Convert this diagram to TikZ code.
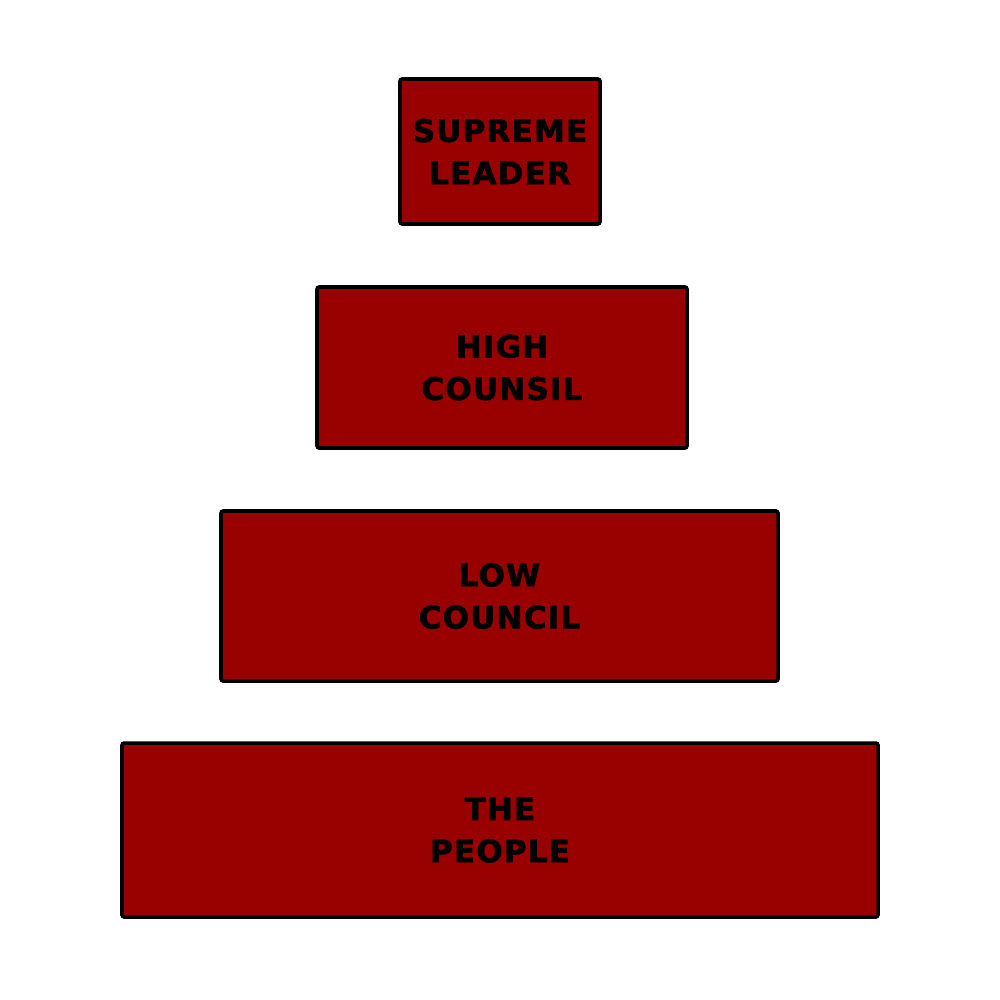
\documentclass[tikz,border=0pt]{standalone}
\usepackage{fontspec}
\setmainfont{DejaVu Sans}[BoldFeatures={FakeBold=2}]
\definecolor{boxred}{HTML}{990000}
\begin{document}
\begin{tikzpicture}[x=0.01cm,y=-0.01cm,
  tier/.style={draw=black, line width=1pt, fill=boxred, rounded corners=0.6pt,
    inner sep=0pt, align=center, text=black,
    font=\fontsize{8.8}{12}\selectfont\bfseries\addfontfeatures{LetterSpace=4}}]
\useasboundingbox[fill=white] (0,0) rectangle (1000,1000);
\node[tier, minimum width=200*0.01cm, minimum height=145*0.01cm] (sl) at (500,151.5) {SUPREME\\LEADER};
\node[tier, minimum width=370*0.01cm, minimum height=161*0.01cm] (hc) at (502,367.5) {HIGH\\COUNSIL};
\node[tier, minimum width=557*0.01cm, minimum height=170*0.01cm] (lc) at (499.5,596) {LOW\\COUNCIL};
\node[tier, minimum width=756*0.01cm, minimum height=174*0.01cm] (tp) at (500,830) {THE\\PEOPLE};
\end{tikzpicture}
\end{document}
